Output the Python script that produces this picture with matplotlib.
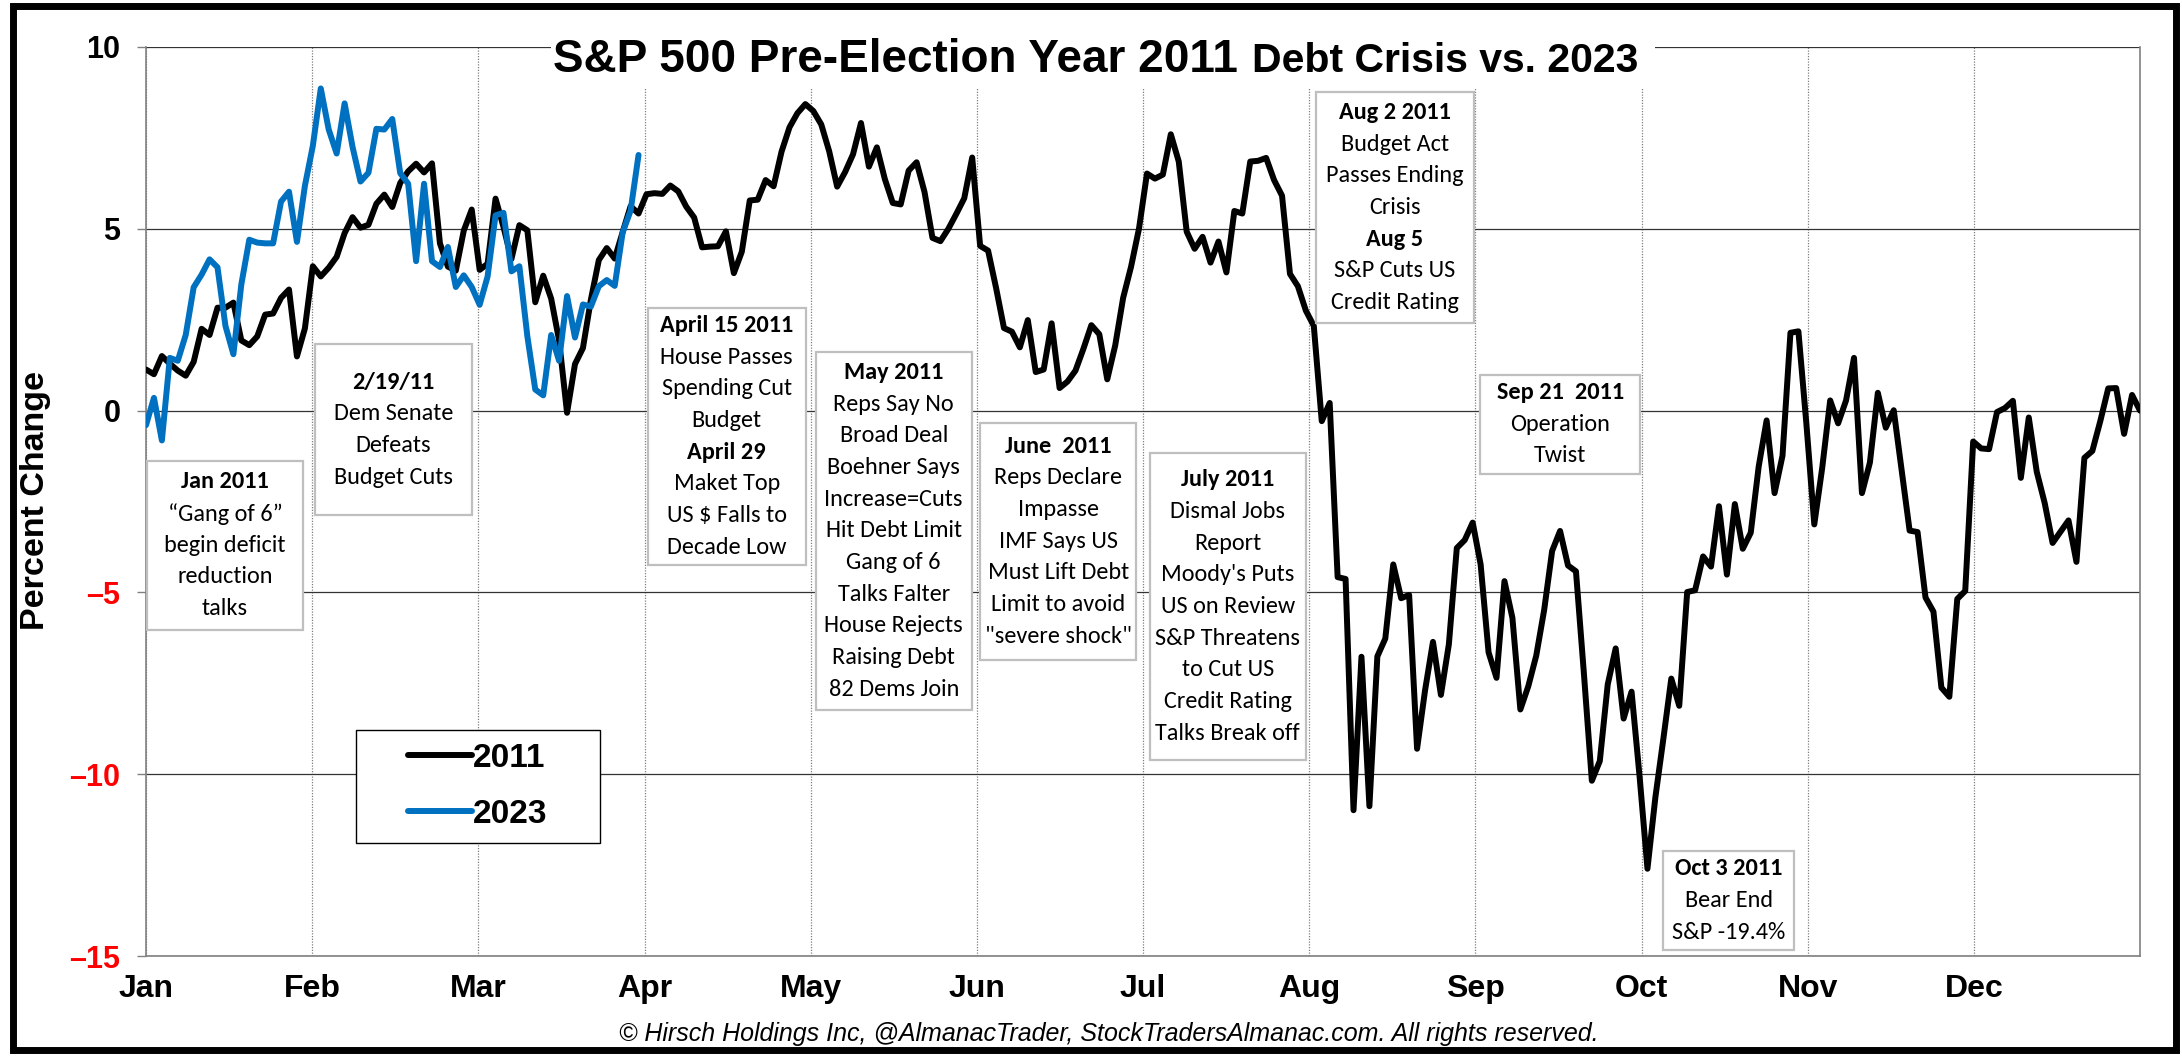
import numpy as np
import matplotlib
matplotlib.use('Agg')
import matplotlib.pyplot as plt
from matplotlib.patches import Rectangle
from matplotlib import font_manager

# month labels along the bottom
months = ['Jan', 'Feb', 'Mar', 'Apr', 'May', 'Jun', 'Jul', 'Aug', 'Sep', 'Oct', 'Nov', 'Dec']

# S&P 500 % change from prior year close, 2011 (daily, as plotted)
sp2011 = [
    1.13, 1.00, 1.50, 1.29, 1.10, 0.96, 1.34, 2.25, 2.08, 2.83, 2.83, 2.97, 1.93, 1.80, 2.04, 2.64, 2.67, 3.10, 3.33, 1.49, 2.26,
    3.97, 3.69, 3.93, 4.23, 4.88, 5.32, 5.03, 5.11, 5.69, 5.94, 5.60, 6.26, 6.58, 6.79, 6.55, 6.80, 4.60, 3.96, 3.85, 4.95, 5.53,
    3.87, 4.04, 5.83, 5.05, 4.17, 5.10, 4.96, 2.98, 3.71, 3.08, 1.93, -0.06, 1.28, 1.72, 3.05, 4.14, 4.47, 4.18, 4.91, 5.62, 5.42,
    5.95, 5.98, 5.96, 6.19, 6.03, 5.61, 5.31, 4.49, 4.51, 4.52, 4.93, 3.78, 4.37, 5.78, 5.80, 6.34, 6.17, 7.12, 7.79, 8.18, 8.43,
    8.24, 7.87, 7.13, 6.16, 6.56, 7.05, 7.91, 6.71, 7.24, 6.37, 5.71, 5.67, 6.60, 6.83, 6.01, 4.75, 4.66, 5.00, 5.41, 5.84, 6.96,
    4.53, 4.40, 3.38, 2.27, 2.17, 1.74, 2.49, 1.06, 1.13, 2.40, 0.62, 0.80, 1.10, 1.70, 2.35, 2.10, 0.86, 1.79, 3.10, 3.96, 5.01,
    6.52, 6.38, 6.49, 7.60, 6.85, 4.92, 4.45, 4.78, 4.07, 4.65, 3.80, 5.49, 5.42, 6.85, 6.87, 6.95, 6.34, 5.91, 3.76, 3.42, 2.75,
    2.33, -0.29, 0.21, -4.58, -4.63, -10.99, -6.77, -10.88, -6.76, -6.27, -4.23, -5.16, -5.07, -9.30, -7.70, -6.36, -7.82, -6.43, -3.78, -3.56, -3.08,
    -4.23, -6.65, -7.35, -4.69, -5.70, -8.22, -7.58, -6.74, -5.48, -3.86, -3.31, -4.26, -4.42, -7.23, -10.18, -9.64, -7.53, -6.54, -8.47, -7.73, -10.04,
    -12.60, -10.63, -9.03, -7.37, -8.12, -4.99, -4.94, -4.01, -4.29, -2.63, -4.51, -2.57, -3.80, -3.36, -1.54, -0.27, -2.27, -1.24, 2.14, 2.18, -0.35,
    -3.13, -1.57, 0.28, -0.35, 0.28, 1.45, -2.27, -1.43, 0.49, -0.47, 0.01, -1.65, -3.30, -3.34, -5.14, -5.53, -7.62, -7.87, -5.18, -4.96, -0.85,
    -1.04, -1.06, -0.04, 0.07, 0.27, -1.85, -0.19, -1.68, -2.54, -3.64, -3.33, -3.02, -4.16, -1.30, -1.11, -0.29, 0.61, 0.62, -0.64, 0.43, 0.00,
]

# 2023 year to date
sp2023 = [
    -0.40, 0.35, -0.82, 1.45, 1.37, 2.08, 3.39, 3.74, 4.16, 3.94, 2.33, 1.55, 3.47, 4.70, 4.62, 4.60, 4.60, 5.75, 6.02, 4.64, 6.18,
    7.28, 8.86, 7.73, 7.07, 8.45, 7.25, 6.30, 6.54, 7.75, 7.73, 8.02, 6.53, 6.24, 4.11, 6.24, 4.11, 3.95, 4.50, 3.40, 3.72, 3.40,
    2.91, 3.69, 5.37, 5.44, 3.83, 3.97, 2.05, 0.58, 0.42, 2.08, 1.37, 3.15, 2.01, 2.92, 2.86, 3.42, 3.59, 3.43, 4.90, 5.50, 7.03,
]

yticks = [-15, -10, -5, 0, 5, 10]
ytick_labels = ['\u201315', '\u201310', '\u20135', '0', '5', '10']

# annotation boxes: (left, right, top, bottom) in month / percent units
note_boxes = [
    (0.006, 0.945, -1.38, -6.03),
    (1.02, 1.96, 1.82, -2.86),
    (3.02, 3.97, 2.83, -4.24),
    (4.03, 4.97, 1.62, -8.23),
    (5.02, 5.96, -0.33, -6.85),
    (6.04, 6.98, -1.16, -9.61),
    (7.04, 7.99, 8.75, 2.42),
    (8.03, 8.99, 0.99, -1.74),
    (9.13, 9.92, -12.11, -14.84),
]
note_lines = [
    [('Jan 2011', 1), ('\u201cGang of 6\u201d', 0), ('begin deficit', 0), ('reduction', 0), ('talks', 0)],
    [('2/19/11', 1), ('Dem Senate', 0), ('Defeats', 0), ('Budget Cuts', 0)],
    [('April 15 2011', 1), ('House Passes', 0), ('Spending Cut', 0), ('Budget', 0), ('April 29', 1),
     ('Maket Top', 0), ('US $ Falls to', 0), ('Decade Low', 0)],
    [('May 2011', 1), ('Reps Say No', 0), ('Broad Deal', 0), ('Boehner Says', 0), ('Increase=Cuts', 0),
     ('Hit Debt Limit', 0), ('Gang of 6', 0), ('Talks Falter', 0), ('House Rejects', 0), ('Raising Debt', 0),
     ('82 Dems Join', 0)],
    [('June  2011', 1), ('Reps Declare', 0), ('Impasse', 0), ('IMF Says US', 0), ('Must Lift Debt', 0),
     ('Limit to avoid', 0), ('"severe shock"', 0)],
    [('July 2011', 1), ('Dismal Jobs', 0), ('Report', 0), ("Moody's Puts", 0), ('US on Review', 0),
     ('S&P Threatens', 0), ('to Cut US', 0), ('Credit Rating', 0), ('Talks Break off', 0)],
    [('Aug 2 2011', 1), ('Budget Act', 0), ('Passes Ending', 0), ('Crisis', 0), ('Aug 5', 1),
     ('S&P Cuts US', 0), ('Credit Rating', 0)],
    [('Sep 21  2011', 1), ('Operation', 0), ('Twist', 0)],
    [('Oct 3 2011', 1), ('Bear End', 0), ('S&P -19.4%', 0)],
]

# legend frame: (left, right, top, bottom) in month / percent units
legend_box = (1.264, 2.732, -8.78, -11.89)

installed = {f.name for f in font_manager.fontManager.ttflist}
box_font = 'Carlito' if 'Carlito' in installed else 'Lato'
box_size = 17.5 if box_font == 'Carlito' else 16.5
if 'Liberation Sans Narrow' in installed:
    title_font, t1, t2 = 'Liberation Sans Narrow', 40, 36
else:
    title_font, t1, t2 = 'Liberation Sans', 33, 29.5
plt.rcParams['font.family'] = ['Liberation Sans', 'DejaVu Sans']

W, H = 2182, 1056
fig = plt.figure(figsize=(W / 100, H / 100), dpi=100)
ax = fig.add_axes([146 / W, 1 - 956 / H, 1994 / W, 909 / H])

step = 12 / (len(sp2011) - 1)
x11 = np.arange(len(sp2011)) * step
x23 = np.arange(len(sp2023)) * step

ax.plot(x11, sp2011, color='black', lw=4.3, solid_joinstyle='round', solid_capstyle='round', label='2011', zorder=3)
ax.plot(x23, sp2023, color='#0070C0', lw=4.3, solid_joinstyle='round', solid_capstyle='round', label='2023', zorder=4)

ax.set_xlim(0, 12)
ax.set_ylim(-15, 10)
ax.set_xticks(range(12))
ax.set_xticklabels(months, fontsize=23, fontweight='bold')
ax.set_yticks(yticks)
ax.set_yticklabels(ytick_labels, fontsize=22, fontweight='bold')
for lbl, v in zip(ax.get_yticklabels(), yticks):
    lbl.set_color('#FF0000' if v < 0 else 'black')

ax.set_axisbelow(True)
ax.yaxis.grid(True, color='#333333', lw=0.9)
ax.xaxis.grid(True, color='#808080', lw=0.9, linestyle=(0, (1, 1.2)))
ax.tick_params(axis='x', length=0, pad=13)
ax.tick_params(axis='y', length=6.5, width=1, color='#808080', pad=12)
for side in ['left', 'bottom', 'right']:
    ax.spines[side].set_color('#808080')
    ax.spines[side].set_linewidth(1.2)
ax.spines['top'].set_visible(False)

# white panel behind the title that cuts the top grid
ax.add_patch(Rectangle((551 / W, 1 - 88 / H), 1104 / W, 60 / H, transform=fig.transFigure,
                       facecolor='white', edgecolor='none', zorder=1, clip_on=False))
fig.text(1238 / W, 1 - 72 / H, 'S&P 500 Pre-Election Year 2011', ha='right', va='baseline',
         fontsize=t1, fontweight='bold', family=title_font)
fig.text(1252 / W, 1 - 72 / H, 'Debt Crisis vs. 2023', ha='left', va='baseline',
         fontsize=t2, fontweight='bold', family=title_font)

fig.text(36 / W, 1 - 501 / H, 'Percent Change', rotation=90, ha='center', va='center',
         fontsize=24.5, fontweight='bold')

fig.text(1109 / W, 1 - 1041 / H,
         '\u00a9 Hirsch Holdings Inc, @AlmanacTrader, StockTradersAlmanac.com. All rights reserved.',
         ha='center', va='baseline', fontsize=18, style='italic')

# annotation boxes
pitch = 22.8
for (x0, x1, yt, yb), lines in zip(note_boxes, note_lines):
    ax.add_patch(Rectangle((x0, yb), x1 - x0, yt - yb, facecolor='white', edgecolor='#BFBFBF',
                           lw=1.6, zorder=5))
    n = len(lines)
    for i, (txt, bold) in enumerate(lines):
        ax.annotate(txt, xy=((x0 + x1) / 2, (yt + yb) / 2),
                    xytext=(0, ((n - 1) / 2 - i) * pitch), textcoords='offset points',
                    ha='center', va='center', fontsize=box_size, family=box_font,
                    fontweight='bold' if bold else 'normal', zorder=6)

lx0, lx1, lyt, lyb = legend_box
ax.add_patch(Rectangle((lx0, lyb), lx1 - lx0, lyt - lyb, facecolor='white', edgecolor='black',
                       lw=1.0, zorder=6))
leg = ax.legend(loc='center', bbox_to_anchor=((lx0 + lx1) / 24, ((lyt + lyb) / 2 + 15) / 25),
                frameon=False, prop={'size': 24, 'weight': 'bold'}, handlelength=1.9,
                handletextpad=0.05, labelspacing=0.75, borderpad=0.2, borderaxespad=0)
leg.set_zorder(7)

# outer black frame
fig.add_artist(Rectangle((13 / W, 6 / H), 2163 / W, 1044 / H, transform=fig.transFigure,
                         fill=False, edgecolor='black', lw=5))

fig.savefig('out.png', dpi=100)
